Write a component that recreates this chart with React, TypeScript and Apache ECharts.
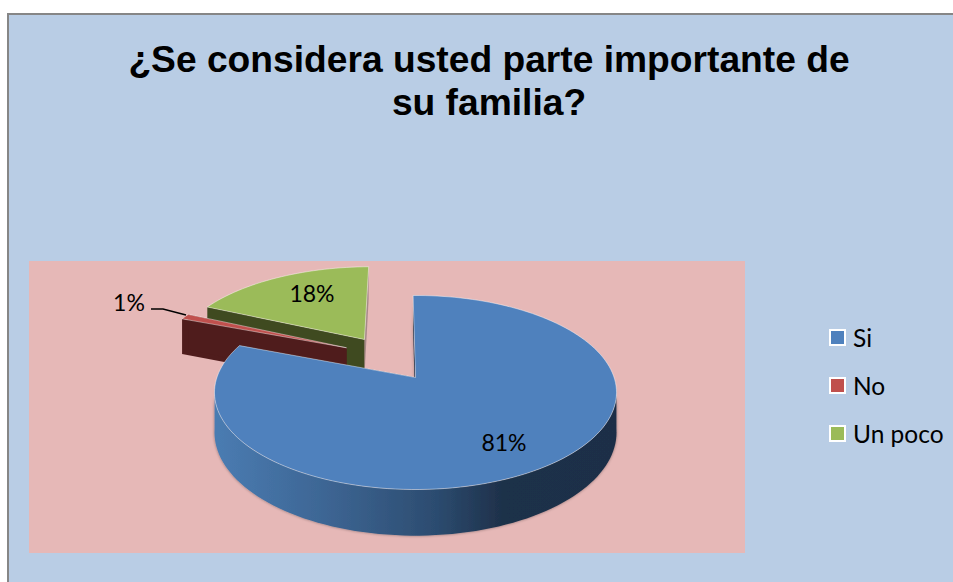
import React, { useEffect, useRef } from "react";
import * as echarts from "echarts";

const titleText = "¿Se considera usted parte importante de\nsu familia?";
const categories = ["Si", "No", "Un poco"];
const values = [81, 1, 18];
const topColors = ["#4f81bd", "#c0504d", "#9bbb59"];
const sideColors = ["#2a4a6e", "#4f1c1c", "#3f4a20"];

// layout / projection constants (not data)
const CX = 415.5, CY = 377.5, R = 198.6, RY = 94.7, K = 0.1546, H = 39, ROT = -0.8;
const EXPLODE = [[0, 0], [-0.365, -0.33], [-0.274, -0.428]];
const LABEL_POS = [[504, 442], [129, 302], [312, 293]];

function project(u: number, v: number, drop: number): number[] {
  const den = 1 - K * v;
  return [CX + (R * u) / den, CY + (RY * v + drop * H) / den];
}

function sliceAngles(i: number): number[] {
  const total = values.reduce((a, b) => a + b, 0);
  let acc = 0;
  for (let j = 0; j < i; j++) acc += values[j];
  return [ROT + (acc / total) * 360, ROT + ((acc + values[i]) / total) * 360];
}

function rimPoint(deg: number, i: number, drop: number): number[] {
  const a = (deg * Math.PI) / 180;
  return project(Math.sin(a) + EXPLODE[i][0], -Math.cos(a) + EXPLODE[i][1], drop);
}

function arc(i: number, drop: number, from: number, to: number): number[][] {
  const n = Math.max(2, Math.ceil((to - from) / 2));
  const out: number[][] = [];
  for (let k = 0; k <= n; k++) out.push(rimPoint(from + ((to - from) * k) / n, i, drop));
  return out;
}

function renderSlice(i: number) {
  return () => {
    const [a0, a1] = sliceAngles(i);
    const apexTop = project(EXPLODE[i][0], EXPLODE[i][1], 0);
    const apexLow = project(EXPLODE[i][0], EXPLODE[i][1], 1);
    const blue = i === 0;
    const shadow = { shadowBlur: 3, shadowColor: "rgba(0,0,0,0.4)" };
    const children: any[] = [
      // wall along the slice's first radial edge
      {
        type: "polygon",
        shape: { points: [apexTop, rimPoint(a0, i, 0), rimPoint(a0, i, 1), apexLow] },
        style: blue ? { fill: "#16263c", ...shadow } : { fill: sideColors[i] },
      },
      // wall along the slice's last radial edge
      {
        type: "polygon",
        shape: { points: [apexTop, rimPoint(a1, i, 0), rimPoint(a1, i, 1), apexLow] },
        style: { fill: i === 2 ? "rgba(90,80,80,0.45)" : sideColors[i] },
      },
    ];
    if (blue) {
      // outer rim, front part only
      children.push({
        type: "polygon",
        shape: { points: [...arc(i, 0, 97, 263), ...arc(i, 1, 97, 263).reverse()] },
        style: {
          fill: new echarts.graphic.LinearGradient(0, 0, 1, 0, [
            { offset: 0, color: "#4a7cb2" },
            { offset: 0.28, color: "#3d6593" },
            { offset: 0.55, color: "#2c4c70" },
            { offset: 0.72, color: "#1e3049" },
            { offset: 1, color: "#1d2f47" },
          ]),
          ...shadow,
        },
      });
    }
    children.push(
      // top surface
      {
        type: "polygon",
        shape: { points: [apexTop, ...arc(i, 0, a0, a1)] },
        style: { fill: topColors[i], stroke: "rgba(255,255,255,0.55)", lineWidth: 0.8 },
      },
      {
        type: "text",
        style: {
          text: values[i] + "%",
          x: LABEL_POS[i][0],
          y: LABEL_POS[i][1],
          align: "center",
          verticalAlign: "middle",
          fill: "#000",
          font: "23px Lato",
        },
      }
    );
    if (i === 1) {
      children.push({
        type: "polyline",
        shape: { points: [[151, 309], [163, 309], [186, 315]] },
        style: { stroke: "#000", lineWidth: 1.5, fill: "none" },
      });
    }
    return { type: "group", children };
  };
}

export default function App() {
  const ref = useRef<HTMLDivElement>(null);
  useEffect(() => {
    document.body.style.margin = "0";
    const chart = echarts.init(ref.current!, null, { renderer: "svg" });
    const drawOrder = [2, 1, 0];
    chart.setOption({
      animation: false,
      backgroundColor: "#ffffff",
      title: {
        text: titleText,
        left: 484,
        top: 32.5,
        textAlign: "center",
        textStyle: {
          fontFamily: "Liberation Sans",
          fontWeight: "bold",
          fontSize: 37.2,
          lineHeight: 43,
          color: "#000",
        },
      },
      legend: {
        orient: "vertical",
        left: 824,
        top: 320,
        itemWidth: 15,
        itemHeight: 15,
        itemGap: 23,
        selectedMode: false,
        data: categories.map((name, i) => ({
          name,
          icon: "rect",
          itemStyle: { color: topColors[i], borderColor: "#fff", borderWidth: 2 },
        })),
        textStyle: { fontFamily: "Lato", fontSize: 24.5, color: "#000", padding: [0, 0, 0, 3] },
      },
      graphic: [
        {
          type: "rect",
          z: -10,
          shape: { x: 8, y: 14, width: 960, height: 580 },
          style: { fill: "#b9cde5", stroke: "#868686", lineWidth: 2 },
        },
        {
          type: "rect",
          z: -9,
          shape: { x: 29, y: 261, width: 716, height: 292 },
          style: { fill: "#e6b8b7" },
        },
      ],
      series: drawOrder.map((i) => ({
        type: "custom",
        name: categories[i],
        coordinateSystem: "none",
        data: [values[i]],
        itemStyle: { color: topColors[i] },
        renderItem: renderSlice(i),
        silent: true,
      })),
    });
    return () => chart.dispose();
  }, []);
  return <div ref={ref} style={{ width: 953, height: 582 }} />;
}
